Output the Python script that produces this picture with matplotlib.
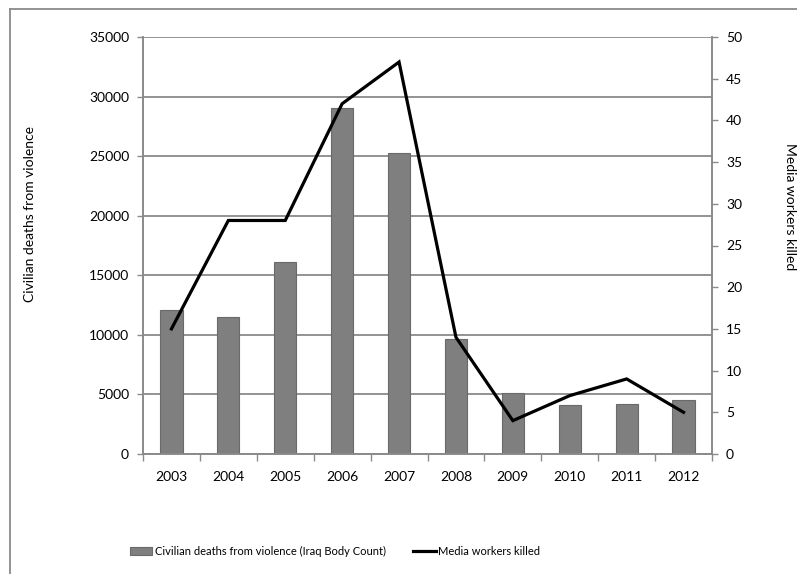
import matplotlib
matplotlib.use("Agg")
import matplotlib.pyplot as plt
from matplotlib.lines import Line2D
import numpy as np

plt.rcParams['font.family'] = ['Lato', 'DejaVu Sans']

years = ["2003", "2004", "2005", "2006", "2007", "2008", "2009", "2010", "2011", "2012"]
civilian_deaths = [12100, 11500, 16100, 29070, 25240, 9630, 5150, 4080, 4170, 4530]
media_killed = [15, 28, 28, 42, 47, 14, 4, 7, 9, 5]

bar_label = "Civilian deaths from violence (Iraq Body Count)"
line_label = "Media workers killed"
left_title = "Civilian deaths from violence"
right_title = "Media workers killed"

grid_col = "#8a8a8a"
bar_col = "#7f7f7f"

fig = plt.figure(figsize=(7.97, 5.74), dpi=100)
ax = fig.add_axes([143/797, 1 - 454/574, (712 - 143)/797, (454 - 37)/574])
ax2 = ax.twinx()

x = np.arange(len(years))
bars = ax.bar(x, civilian_deaths, width=0.39, color=bar_col, edgecolor="#6a6a6a",
              linewidth=0.8, zorder=2, label=bar_label)
line, = ax2.plot(x, media_killed, color="black", linewidth=2.3, zorder=3,
                 solid_joinstyle="miter", label=line_label)

ax.set_xlim(-0.5, len(years) - 0.5)
ax.set_ylim(0, 35000)
ax.set_yticks(np.arange(0, 35001, 5000))
ax2.set_ylim(0, 50)
ax2.set_yticks(np.arange(0, 51, 5))

ax.yaxis.grid(True, color=grid_col, linewidth=1.3, zorder=0)
ax.set_axisbelow(True)

ax.set_xticks(x)
ax.set_xticklabels(years)
ax.set_xticks(np.arange(-0.5, len(years)), minor=True)
ax.tick_params(axis="x", which="major", length=0, pad=12, labelsize=10)
ax.tick_params(axis="x", which="minor", length=5, width=1, color=grid_col, direction="out")
ax.tick_params(axis="y", length=4, width=1, color=grid_col, labelsize=10, pad=6)
ax2.tick_params(axis="y", length=4, width=1, color=grid_col, labelsize=10, pad=6)

for a in (ax, ax2):
    a.spines["top"].set_visible(False)
    for side in ("left", "right", "bottom"):
        a.spines[side].set_color(grid_col)
        a.spines[side].set_linewidth(1.2)

fig.text(30/797, 1 - 214/574, left_title, rotation=90, ha="center", va="center", fontsize=10)
fig.text(790/797, 1 - 207/574, right_title, rotation=270, ha="center", va="center", fontsize=10)

fig.legend(handles=[bars, line], labels=[bar_label, line_label], loc="center",
           bbox_to_anchor=(335/797, 1 - 551/574), ncol=2, frameon=False, fontsize=8,
           handlelength=2.0, handleheight=0.7, handletextpad=0.2, columnspacing=2.5)

# outer chart frame (left and top edges)
fig.add_artist(Line2D([10/797, 10/797], [0, 1 - 9/574], transform=fig.transFigure,
                      color=grid_col, linewidth=1.3))
fig.add_artist(Line2D([10/797, 1], [1 - 9/574, 1 - 9/574], transform=fig.transFigure,
                      color=grid_col, linewidth=1.3))

fig.savefig("out.png", dpi=100)
